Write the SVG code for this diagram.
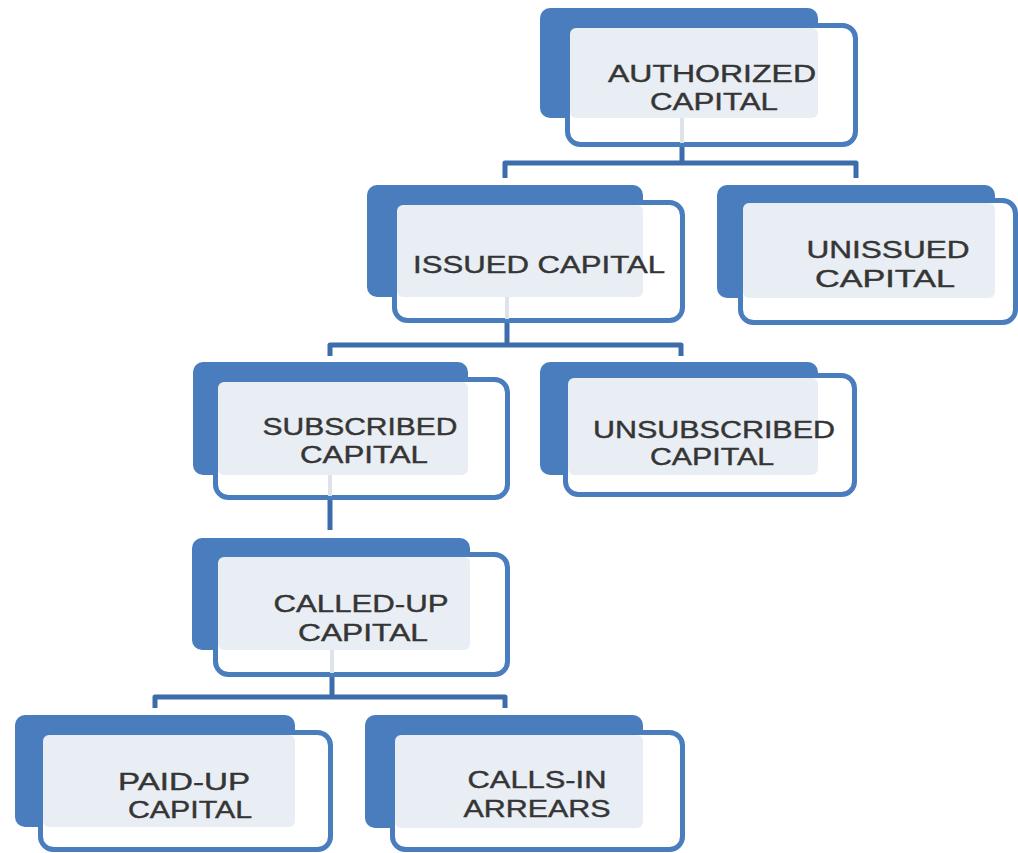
<svg xmlns="http://www.w3.org/2000/svg" width="1018" height="853" viewBox="0 0 1018 853">
<style>
.back{fill:#4a7dbe}
.front{fill:#ffffff;stroke:#4a7dbe;stroke-width:5}
.light{fill:#e9edf4}
.lbl{font-family:"Liberation Sans",Arial,sans-serif;font-size:23px;fill:#353535;stroke:#353535;stroke-width:0.4;text-anchor:middle}
.con{fill:none;stroke:#3d6cab;stroke-width:5;stroke-linejoin:round}
.stub{stroke:#dde3ec;stroke-width:4}
</style>
<rect width="1018" height="853" fill="#ffffff"/>
<g id="connectors">
<path class="con" d="M682,147 V163 M505,178 V163 H856 V178"/>
<path class="con" d="M507,323 V345 M330,356 V345 H681 V356"/>
<path class="con" d="M330,500 V530"/>
<path class="con" d="M332,677 V697 M155,708 V697 H505 V708"/>
</g>
<g id="authorized">
<rect class="back" x="540" y="8" width="278" height="110" rx="10"/>
<rect class="front" x="567.5" y="25.5" width="288" height="119" rx="13"/>
<rect class="light" x="570" y="28" width="248" height="90" rx="6"/>
<line class="stub" x1="682" y1="118" x2="682" y2="143"/>
<text class="lbl" x="712" y="82" textLength="208" lengthAdjust="spacingAndGlyphs">AUTHORIZED</text>
<text class="lbl" x="714" y="110" textLength="128" lengthAdjust="spacingAndGlyphs">CAPITAL</text>
</g>
<g id="issued">
<rect class="back" x="367" y="185" width="276" height="112" rx="10"/>
<rect class="front" x="394.5" y="202.5" width="288" height="118" rx="13"/>
<rect class="light" x="397" y="205" width="246" height="92" rx="6"/>
<line class="stub" x1="507" y1="297" x2="507" y2="319"/>
<text class="lbl" x="539" y="273" textLength="252" lengthAdjust="spacingAndGlyphs">ISSUED CAPITAL</text>
</g>
<g id="unissued">
<rect class="back" x="717" y="185" width="278" height="113" rx="10"/>
<rect class="front" x="740.5" y="200.5" width="275" height="122" rx="13"/>
<rect class="light" x="743" y="203" width="252" height="95" rx="6"/>
<text class="lbl" x="888" y="258" textLength="163" lengthAdjust="spacingAndGlyphs">UNISSUED</text>
<text class="lbl" x="885" y="287" textLength="140" lengthAdjust="spacingAndGlyphs">CAPITAL</text>
</g>
<g id="subscribed">
<rect class="back" x="193" y="362" width="275" height="113" rx="10"/>
<rect class="front" x="215.5" y="379.5" width="292" height="118" rx="13"/>
<rect class="light" x="218" y="382" width="250" height="93" rx="6"/>
<line class="stub" x1="330" y1="475" x2="330" y2="496"/>
<text class="lbl" x="360" y="435" textLength="195" lengthAdjust="spacingAndGlyphs">SUBSCRIBED</text>
<text class="lbl" x="364" y="463" textLength="128" lengthAdjust="spacingAndGlyphs">CAPITAL</text>
</g>
<g id="unsubscribed">
<rect class="back" x="540" y="362" width="278" height="113" rx="10"/>
<rect class="front" x="565.5" y="375.5" width="289" height="119" rx="13"/>
<rect class="light" x="568" y="378" width="250" height="97" rx="6"/>
<text class="lbl" x="714" y="438" textLength="242" lengthAdjust="spacingAndGlyphs">UNSUBSCRIBED</text>
<text class="lbl" x="712" y="465" textLength="124" lengthAdjust="spacingAndGlyphs">CAPITAL</text>
</g>
<g id="called-up">
<rect class="back" x="192" y="538" width="278" height="112" rx="10"/>
<rect class="front" x="215.5" y="554.5" width="292" height="120" rx="13"/>
<rect class="light" x="218" y="557" width="252" height="93" rx="6"/>
<line class="stub" x1="332" y1="650" x2="332" y2="673"/>
<text class="lbl" x="361" y="612" textLength="175" lengthAdjust="spacingAndGlyphs">CALLED-UP</text>
<text class="lbl" x="363" y="641" textLength="130" lengthAdjust="spacingAndGlyphs">CAPITAL</text>
</g>
<g id="paid-up">
<rect class="back" x="15" y="715" width="280" height="112" rx="10"/>
<rect class="front" x="40.5" y="732.5" width="290" height="117" rx="13"/>
<rect class="light" x="43" y="735" width="252" height="92" rx="6"/>
<text class="lbl" x="184" y="790" textLength="132" lengthAdjust="spacingAndGlyphs">PAID-UP</text>
<text class="lbl" x="190" y="818" textLength="124" lengthAdjust="spacingAndGlyphs">CAPITAL</text>
</g>
<g id="calls-in">
<rect class="back" x="365" y="715" width="278" height="113" rx="10"/>
<rect class="front" x="392.5" y="732.5" width="290" height="117" rx="13"/>
<rect class="light" x="395" y="735" width="248" height="93" rx="6"/>
<text class="lbl" x="537" y="788" textLength="139" lengthAdjust="spacingAndGlyphs">CALLS-IN</text>
<text class="lbl" x="537" y="817" textLength="147" lengthAdjust="spacingAndGlyphs">ARREARS</text>
</g>
</svg>
